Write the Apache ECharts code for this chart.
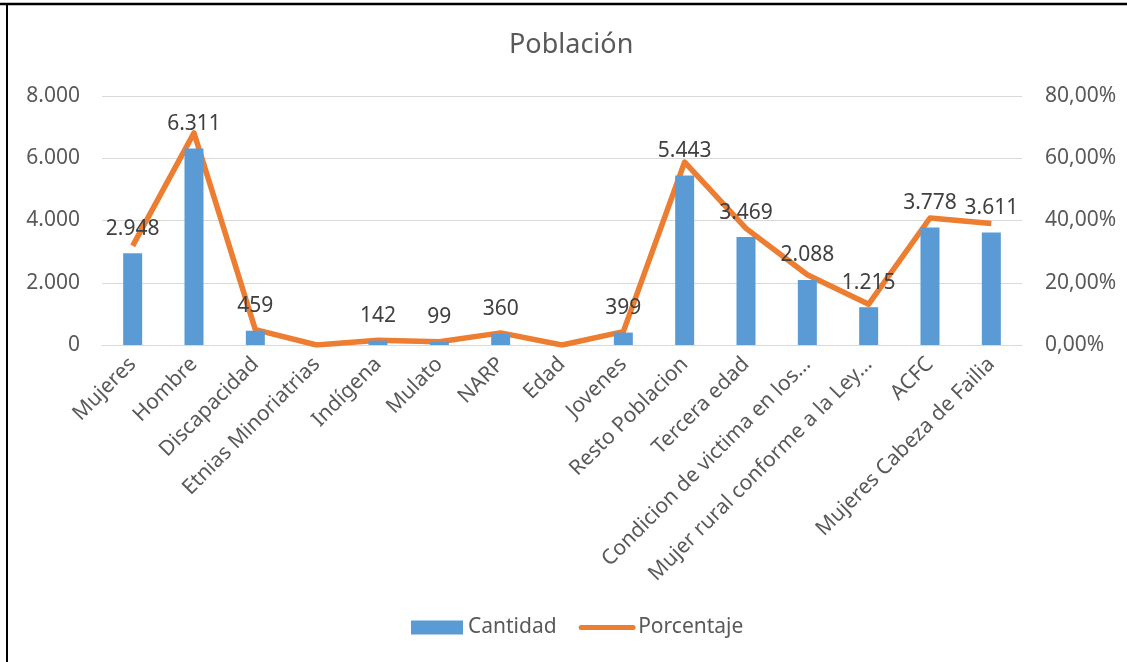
<!DOCTYPE html>
<html lang="es">

<head>
    <meta charset="UTF-8">
    <title>Población</title>
    <script src="https://cdn.jsdelivr.net/npm/echarts@6/dist/echarts.min.js"></script>
    <style>
        html, body {
            margin: 0;
            padding: 0;
            background: #fff;
        }
        #chart {
            width: 1127px;
            height: 662px;
        }
    </style>
</head>

<body>
    <div id="chart"></div>

    <script>
        // datos
        var categorias = ['Mujeres', 'Hombre', 'Discapacidad', 'Etnias Minoriatrias', 'Indígena', 'Mulato', 'NARP', 'Edad',
            'Jovenes', 'Resto Poblacion', 'Tercera edad', 'Condicion de victima en los…', 'Mujer rural conforme a la Ley…',
            'ACFC', 'Mujeres Cabeza de Failia'];
        var cantidad = [2948, 6311, 459, 0, 142, 99, 360, 0, 399, 5443, 3469, 2088, 1215, 3778, 3611];
        var porcentaje = [31.84, 68.16, 4.96, 0, 1.53, 1.07, 3.89, 0, 4.31, 58.79, 37.47, 22.55, 13.12, 40.80, 39.00];

        var fuente = '"Noto Sans", "Open Sans", sans-serif';
        var gris = '#595959';

        function miles(v) {
            return String(v).replace(/\B(?=(\d{3})+(?!\d))/g, '.');
        }

        var myChart = echarts.init(document.getElementById('chart'));

        var option = {
            textStyle: { fontFamily: fuente },
            title: {
                text: 'Población',
                left: 504,
                top: 27,
                textStyle: { fontSize: 27, fontWeight: 'normal', color: gris, fontFamily: fuente }
            },
            legend: {
                bottom: 19,
                left: 406,
                itemWidth: 52,
                itemHeight: 14,
                itemGap: 22,
                textStyle: { fontSize: 21, color: gris, fontFamily: fuente },
                data: [
                    { name: 'Cantidad', icon: 'rect' },
                    {
                        name: 'Porcentaje',
                        itemStyle: { opacity: 0 },
                        lineStyle: { width: 5, cap: 'round', color: '#ED7D31' }
                    }
                ]
            },
            grid: {
                left: 102,
                right: 105,
                top: 96,
                bottom: 317
            },
            xAxis: {
                type: 'category',
                data: categorias,
                axisLine: { lineStyle: { color: '#D9D9D9', width: 1 } },
                axisTick: { show: false },
                axisLabel: {
                    rotate: 45,
                    interval: 0,
                    margin: 16,
                    fontSize: 21,
                    color: gris,
                    fontFamily: fuente
                }
            },
            yAxis: [{
                type: 'value',
                min: 0,
                max: 8000,
                interval: 2000,
                axisLine: { show: false },
                axisTick: { show: false },
                splitLine: { lineStyle: { color: '#D9D9D9', width: 1 } },
                axisLabel: {
                    margin: 22,
                    fontSize: 21,
                    color: gris,
                    fontFamily: fuente,
                    formatter: function(v) { return miles(v); }
                }
            }, {
                type: 'value',
                min: 0,
                max: 80,
                interval: 20,
                axisLine: { show: false },
                axisTick: { show: false },
                splitLine: { show: false },
                axisLabel: {
                    margin: 23,
                    fontSize: 21,
                    color: gris,
                    fontFamily: fuente,
                    formatter: function(v) { return v.toFixed(2).replace('.', ',') + '%'; }
                }
            }],
            series: [{
                name: 'Cantidad',
                type: 'bar',
                data: cantidad,
                barWidth: 19,
                itemStyle: { color: '#5B9BD5' },
                label: {
                    show: true,
                    position: 'top',
                    distance: 14,
                    fontSize: 21,
                    color: '#404040',
                    fontFamily: fuente,
                    formatter: function(p) { return p.value ? miles(p.value) : ''; }
                },
                z: 2
            }, {
                name: 'Porcentaje',
                type: 'line',
                yAxisIndex: 1,
                data: porcentaje,
                symbol: 'none',
                lineStyle: { color: '#ED7D31', width: 5.5, join: 'round' },
                itemStyle: { color: '#ED7D31' },
                z: 1
            }],
            graphic: [{
                type: 'line',
                shape: { x1: 0, y1: 4, x2: 1127, y2: 4 },
                style: { stroke: '#000', lineWidth: 2.5 }
            }, {
                type: 'line',
                shape: { x1: 7, y1: 4, x2: 7, y2: 662 },
                style: { stroke: '#000', lineWidth: 2 }
            }]
        };

        myChart.setOption(option);
    </script>
</body>

</html>
